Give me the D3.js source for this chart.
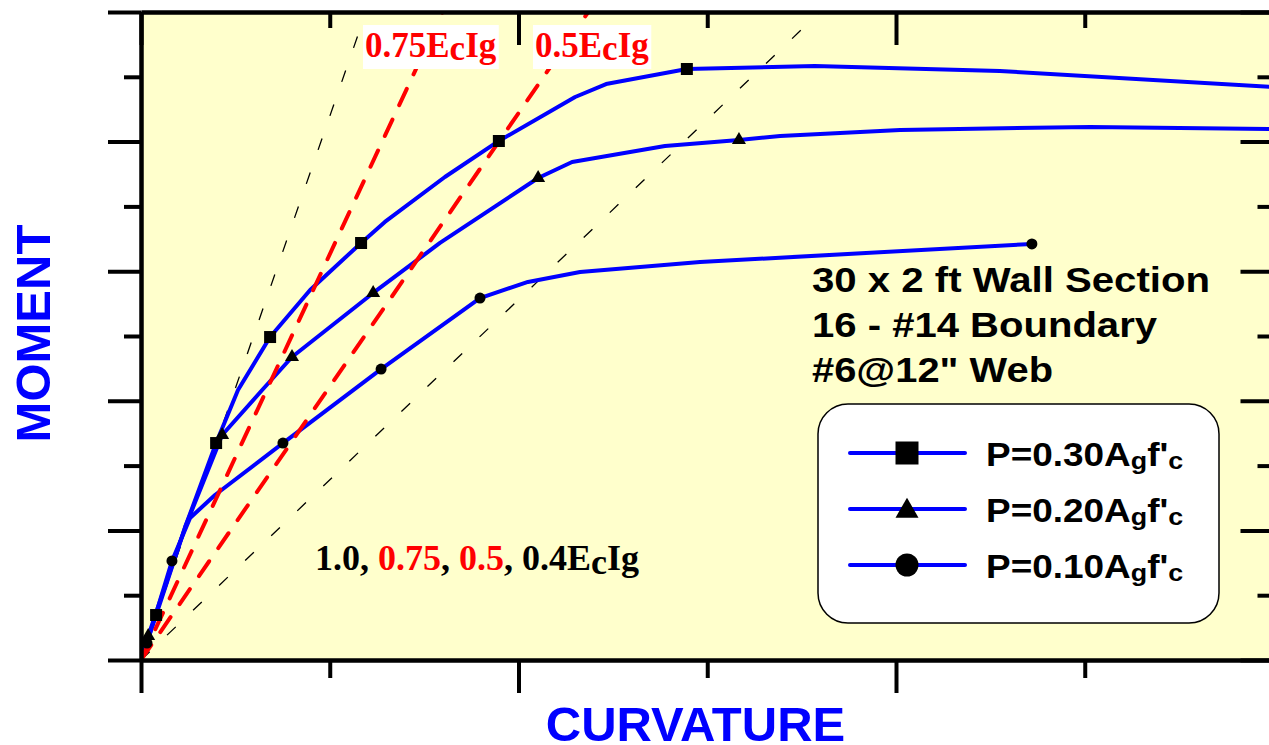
<!DOCTYPE html>
<html><head><meta charset="utf-8">
<script src="https://cdn.jsdelivr.net/npm/d3@7"></script>
<style>body{margin:0;background:#fff}svg{display:block}</style>
</head><body><svg id="c" width="1269" height="745"></svg>
<script>
// ---------- data ----------
const seriesNames = ["P=0.30", "P=0.20", "P=0.10"];
const curvature30 = [0, 0.040, 0.117, 0.199, 0.257, 0.342, 0.448, 0.583, 0.646, 0.805, 0.948, 1.150, 1.232, 1.446, 1.785, 2.275, 3.0];
const moment30    = [0, 0.347, 1.026, 1.674, 2.083, 2.492, 2.855, 3.218, 3.380, 3.727, 4.005, 4.344, 4.444, 4.560, 4.583, 4.545, 4.421];
const markers30   = [1, 3, 5, 7, 10, 13];
const curvature20 = [0, 0.019, 0.117, 0.215, 0.321, 0.400, 0.615, 0.792, 1.052, 1.142, 1.388, 1.584, 1.693, 2.011, 2.514, 3.0];
const moment20    = [0, 0.185, 1.026, 1.736, 2.083, 2.338, 2.832, 3.218, 3.719, 3.843, 3.966, 4.012, 4.043, 4.090, 4.113, 4.097];
const markers20   = [1, 3, 5, 6, 8, 11];
const curvature10 = [0, 0.016, 0.082, 0.130, 0.196, 0.376, 0.636, 0.898, 1.025, 1.163, 1.481, 2.360];
const moment10    = [0, 0.131, 0.764, 1.096, 1.273, 1.674, 2.245, 2.793, 2.917, 2.994, 3.071, 3.210];
const markers10   = [1, 2, 5, 6, 7, 11];

// effective stiffness reference lines (fraction of EcIg, slope in chart units)
const stiffLabels = ["1.0", "0.75", "0.5", "0.4"];
const stiffSlopes = [8.39, 6.26, 4.22, 2.78];

const xMajorTicks = [0, 1, 2, 3];
const xMinorTicks = [0.5, 1.5, 2.5];
const yMajorTicks = [0, 1, 2, 3, 4, 5];
const yMinorTicks = [0.5, 1.5, 2.5, 3.5, 4.5];

const infoLines = ["30 x 2 ft Wall Section", "16 - #14 Boundary", "#6@12\" Web"];

// ---------- setup ----------
const svg = d3.select("#c");
const L = 141, R = 1273.5, T = 12, B = 660;
const x = d3.scaleLinear().domain([0, 3]).range([L, R]);
const y = d3.scaleLinear().domain([0, 5]).range([B, T]);

svg.append("rect").attr("width", 1269).attr("height", 745).attr("fill", "#fff");
svg.append("defs").append("clipPath").attr("id", "clip")
  .append("rect").attr("x", L).attr("y", T).attr("width", R - L).attr("height", B - T);
svg.append("rect").attr("x", L).attr("y", T).attr("width", R - L).attr("height", B - T).attr("fill", "#FFFFCC");

const plot = svg.append("g").attr("clip-path", "url(#clip)");
const line = d3.line().x(d => x(d[0])).y(d => y(d[1]));

// stiffness lines
const stiffColor = ["#000", "#FF0000", "#FF0000", "#000"];
const stiffData = stiffSlopes.map(s => [[0, 0], [5 / s, 5]]);
stiffData.forEach((d, i) => {
  if (stiffColor[i] !== "#000") return;
  plot.append("path").attr("d", line(d)).attr("fill", "none")
    .attr("stroke", "#000").attr("stroke-width", 1.3).attr("stroke-dasharray", "12,24");
});

const series = [
  {xs: curvature30, ys: moment30, mk: markers30, sym: d3.symbolSquare, size: 144},
  {xs: curvature20, ys: moment20, mk: markers20, sym: d3.symbolTriangle, size: 85},
  {xs: curvature10, ys: moment10, mk: markers10, sym: d3.symbolCircle, size: 95}
];
series.forEach(s => {
  const pts = s.xs.map((v, i) => [v, s.ys[i]]);
  plot.append("path").attr("d", line(pts)).attr("fill", "none")
    .attr("stroke", "#0000FF").attr("stroke-width", 4).attr("stroke-linejoin", "round");
});
stiffData.forEach((d, i) => {
  if (stiffColor[i] === "#000") return;
  plot.append("path").attr("d", line(d)).attr("fill", "none")
    .attr("stroke", "#FF0000").attr("stroke-width", 4).attr("stroke-linecap", "round")
    .attr("stroke-dasharray", "18,16");
});
series.forEach(s => {
  plot.selectAll(null).data(s.mk).enter().append("path")
    .attr("d", d3.symbol().type(s.sym).size(s.size))
    .attr("transform", i => `translate(${x(s.xs[i])},${y(s.ys[i])})`)
    .attr("fill", "#000");
});

// ---------- axes ----------
function styleAxis(g) {
  g.selectAll("path,line").attr("stroke", "#000").attr("stroke-width", 4);
  g.selectAll("text").remove();
}
const axes = svg.append("g");
axes.append("g").attr("transform", `translate(0,${B})`)
  .call(d3.axisBottom(x).tickValues(xMajorTicks).tickSize(33).tickSizeOuter(0).tickFormat("")).call(styleAxis);
axes.append("g").attr("transform", `translate(0,${B})`)
  .call(d3.axisBottom(x).tickValues(xMinorTicks).tickSize(18).tickSizeOuter(0).tickFormat("")).call(styleAxis);
axes.append("g").attr("transform", `translate(0,${T})`)
  .call(d3.axisTop(x).tickValues(xMajorTicks).tickSize(-33).tickSizeOuter(0).tickFormat("")).call(styleAxis);
axes.append("g").attr("transform", `translate(0,${T})`)
  .call(d3.axisTop(x).tickValues(xMinorTicks).tickSize(-16).tickSizeOuter(0).tickFormat("")).call(styleAxis);
axes.append("g").attr("transform", `translate(${L},0)`)
  .call(d3.axisLeft(y).tickValues(yMajorTicks).tickSize(33).tickSizeOuter(0).tickFormat("")).call(styleAxis);
axes.append("g").attr("transform", `translate(${L},0)`)
  .call(d3.axisLeft(y).tickValues(yMinorTicks).tickSize(17).tickSizeOuter(0).tickFormat("")).call(styleAxis);
axes.append("g").attr("transform", `translate(${R},0)`)
  .call(d3.axisRight(y).tickValues(yMajorTicks).tickSize(-33).tickSizeOuter(0).tickFormat("")).call(styleAxis);
axes.append("g").attr("transform", `translate(${R},0)`)
  .call(d3.axisRight(y).tickValues(yMinorTicks).tickSize(-16).tickSizeOuter(0).tickFormat("")).call(styleAxis);

// ---------- stiffness labels ----------
function ecigLabel(xp, yb, num, size) {
  const t = svg.append("text").attr("x", xp).attr("y", yb)
    .attr("font-family", "'Liberation Serif','Times New Roman',serif").attr("font-weight", "bold")
    .attr("font-size", size).attr("fill", "#FF0000");
  t.append("tspan").text(num + "E");
  t.append("tspan").attr("dy", 3).text("c");
  t.append("tspan").attr("dy", -3).text("Ig");
  const bb = t.node().getBBox();
  svg.insert("rect", () => t.node()).attr("x", bb.x - 2).attr("y", bb.y - 1)
    .attr("width", bb.width + 4).attr("height", bb.height + 2).attr("fill", "#fff");
}
ecigLabel(365, 57, stiffLabels[1], 35);
ecigLabel(535, 57, stiffLabels[2], 35);

const bl = svg.append("text").attr("x", 315).attr("y", 570)
  .attr("font-family", "'Liberation Serif','Times New Roman',serif").attr("font-weight", "bold")
  .attr("font-size", 36).attr("fill", "#000");
bl.append("tspan").text(stiffLabels[0] + ", ");
bl.append("tspan").attr("fill", "#FF0000").text(stiffLabels[1]);
bl.append("tspan").text(", ");
bl.append("tspan").attr("fill", "#FF0000").text(stiffLabels[2]);
bl.append("tspan").text(", " + stiffLabels[3] + "E");
bl.append("tspan").attr("dy", 4).text("c");
bl.append("tspan").attr("dy", -4).text("Ig");

// ---------- info text ----------
const infoW = [398, 345, 241];
infoLines.forEach((s, i) => {
  svg.append("text").attr("x", 812).attr("y", 292 + i * 45)
    .attr("font-family", "'Liberation Sans',Arial,sans-serif").attr("font-weight", "bold")
    .attr("font-size", 35).attr("fill", "#000")
    .attr("textLength", infoW[i]).attr("lengthAdjust", "spacingAndGlyphs").text(s);
});

// ---------- legend ----------
const lg = svg.append("g");
lg.append("rect").attr("x", 818).attr("y", 404).attr("width", 401).attr("height", 219)
  .attr("rx", 30).attr("ry", 30).attr("fill", "#fff").attr("stroke", "#000").attr("stroke-width", 1.5);
const legSym = [d3.symbolSquare, d3.symbolTriangle, d3.symbolCircle];
const legSize = [529, 229, 415];
seriesNames.forEach((n, i) => {
  const yy = 453 + i * 56;
  lg.append("line").attr("x1", 850).attr("x2", 965).attr("y1", yy).attr("y2", yy)
    .attr("stroke", "#0000FF").attr("stroke-width", 4).attr("stroke-linecap", "round");
  lg.append("path").attr("d", d3.symbol().type(legSym[i]).size(legSize[i]))
    .attr("transform", `translate(907,${yy + (i === 1 ? 2 : 0)})`).attr("fill", "#000");
  const t = lg.append("text").attr("transform", `translate(986,${yy + 13}) scale(1.12,1)`)
    .attr("font-family", "'Liberation Sans',Arial,sans-serif").attr("font-weight", "bold")
    .attr("font-size", 33).attr("fill", "#000");
  t.append("tspan").text(n + "A");
  t.append("tspan").attr("font-size", 24).attr("dy", 3).text("g");
  t.append("tspan").attr("dy", -3).text("f'");
  t.append("tspan").attr("font-size", 24).attr("dy", 3).text("c");
});

// ---------- axis titles ----------
svg.append("text").attr("x", 695.5).attr("y", 741).attr("text-anchor", "middle")
  .attr("font-family", "'Liberation Sans',Arial,sans-serif").attr("font-weight", "bold")
  .attr("font-size", 49).attr("fill", "#0000FF").text("CURVATURE");
svg.append("text").attr("transform", "translate(50,333.5) rotate(-90)").attr("text-anchor", "middle")
  .attr("font-family", "'Liberation Sans',Arial,sans-serif").attr("font-weight", "bold")
  .attr("font-size", 49).attr("fill", "#0000FF").text("MOMENT");
</script></body></html>
